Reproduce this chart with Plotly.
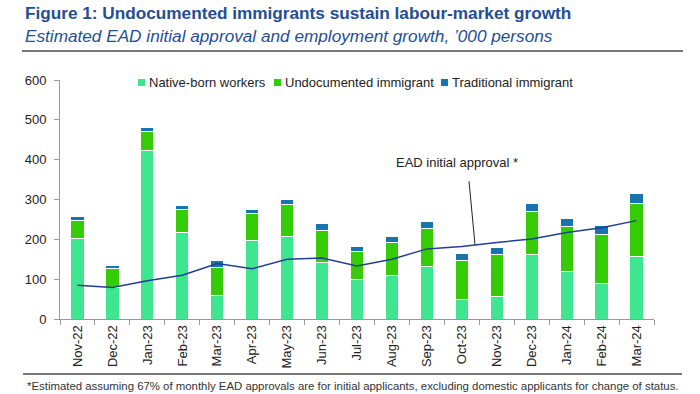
import plotly.graph_objects as go

months = ["Nov-22", "Dec-22", "Jan-23", "Feb-23", "Mar-23", "Apr-23", "May-23", "Jun-23",
          "Jul-23", "Aug-23", "Sep-23", "Oct-23", "Nov-23", "Dec-23", "Jan-24", "Feb-24", "Mar-24"]
native = [202, 80, 424, 217, 58, 196, 206, 141, 98, 110, 133, 49, 56, 162, 120, 89, 158]
undocumented = [46, 46, 47, 57, 71, 68, 81, 82, 72, 83, 95, 97, 106, 107, 113, 123, 131]
traditional = [10, 9, 11, 11, 17, 12, 14, 16, 13, 15, 16, 18, 18, 20, 20, 22, 25]
ead_initial = [85, 79, 96, 110, 139, 126, 150, 153, 133, 150, 176, 182, 192, 201, 217, 229, 247]
series_names = ["Native-born workers", "Undocumented immigrant", "Traditional immigrant"]

C_NATIVE = "#3EE68F"
C_UNDOC = "#36CC05"
C_TRAD = "#1874AE"
C_LINE = "#1F3F93"
TITLE_BLUE = "#1F4E96"
FONT = "Liberation Sans, Arial, sans-serif"

L, R, T, B = 60, 46, 80, 75
PW, PH = 700 - L - R, 394 - T - B


def px_x(p):
    return (p - L) / PW


def px_y(p):
    return (394 - B - p) / PH


fig = go.Figure()
colors = [C_NATIVE, C_UNDOC, C_TRAD]
for name, vals, col in zip(series_names, [native, undocumented, traditional], colors):
    fig.add_trace(go.Bar(x=months, y=vals, name=name, marker_color=col, showlegend=False,
                         marker_line_color="white", marker_line_width=1, width=0.38))

fig.add_trace(go.Scatter(x=months, y=ead_initial, mode="lines", showlegend=False,
                         line=dict(color=C_LINE, width=1.5)))

fig.update_layout(
    width=700, height=394,
    barmode="stack",
    plot_bgcolor="white", paper_bgcolor="white",
    margin=dict(l=L, r=R, t=T, b=B, autoexpand=False),
    font=dict(family=FONT, size=13, color="#222222"),
    xaxis=dict(type="category", range=[-0.5, len(months) - 0.5], showline=True,
               linecolor="#999999", linewidth=1,
               ticks="outside", tickson="boundaries", ticklen=5, tickcolor="#999999",
               tickangle=-90, tickfont=dict(size=13, color="#222222"), showgrid=False),
    yaxis=dict(range=[0, 600], dtick=100, showline=True, linecolor="#999999", linewidth=1,
               ticks="outside", ticklen=5, tickcolor="#999999", showgrid=False,
               ticklabelstandoff=5,
               zeroline=False, tickfont=dict(size=13, color="#222222")),
)

# Legend drawn as key squares + labels across the top
legend_sq_x = [138, 274, 441]
for name, col, sx in zip(series_names, colors, legend_sq_x):
    fig.add_shape(type="rect", xref="paper", yref="paper",
                  x0=px_x(sx), x1=px_x(sx + 7), y0=px_y(79), y1=px_y(86),
                  fillcolor=col, line=dict(width=0))
    fig.add_annotation(xref="paper", yref="paper", x=px_x(sx + 9), y=px_y(82.5),
                       xanchor="left", yanchor="middle", text=name, showarrow=False,
                       font=dict(size=13, color="#222222"))

# Annotation for the EAD line
fig.add_shape(type="line", xref="x", yref="y", x0=11.206, y0=346, x1=11.378, y1=186,
              line=dict(color="#222222", width=1))
fig.add_annotation(x=10.86, y=394, xref="x", yref="y", text="EAD initial approval *",
                   showarrow=False, font=dict(size=13, color="#222222"))

# titles
fig.add_annotation(xref="paper", yref="paper", x=px_x(23), y=px_y(13), xanchor="left", yanchor="middle",
                   text="<b>Figure 1: Undocumented immigrants sustain labour-market growth</b>",
                   showarrow=False, font=dict(size=17.2, color=TITLE_BLUE, family=FONT))
fig.add_annotation(xref="paper", yref="paper", x=px_x(23), y=px_y(36), xanchor="left", yanchor="middle",
                   text="<i>Estimated EAD initial approval and employment growth, \u2019000 persons</i>",
                   showarrow=False, font=dict(size=17.2, color=TITLE_BLUE, family=FONT))
fig.add_annotation(xref="paper", yref="paper", x=px_x(353), y=px_y(386), xanchor="center", yanchor="middle",
                   text="*Estimated assuming 67% of monthly EAD approvals are for initial applicants, excluding domestic applicants for change of status.",
                   showarrow=False, font=dict(size=11.4, color="#333333", family=FONT))

# rules
fig.add_shape(type="line", xref="paper", yref="paper", x0=px_x(22), x1=px_x(683),
              y0=px_y(51), y1=px_y(51), line=dict(color="#777777", width=2))
fig.add_shape(type="line", xref="paper", yref="paper", x0=px_x(23), x1=px_x(682),
              y0=px_y(374), y1=px_y(374), line=dict(color="#777777", width=2))

fig.write_html("out.html", config={"displayModeBar": False},
               post_script="document.body.style.margin='0px';")
